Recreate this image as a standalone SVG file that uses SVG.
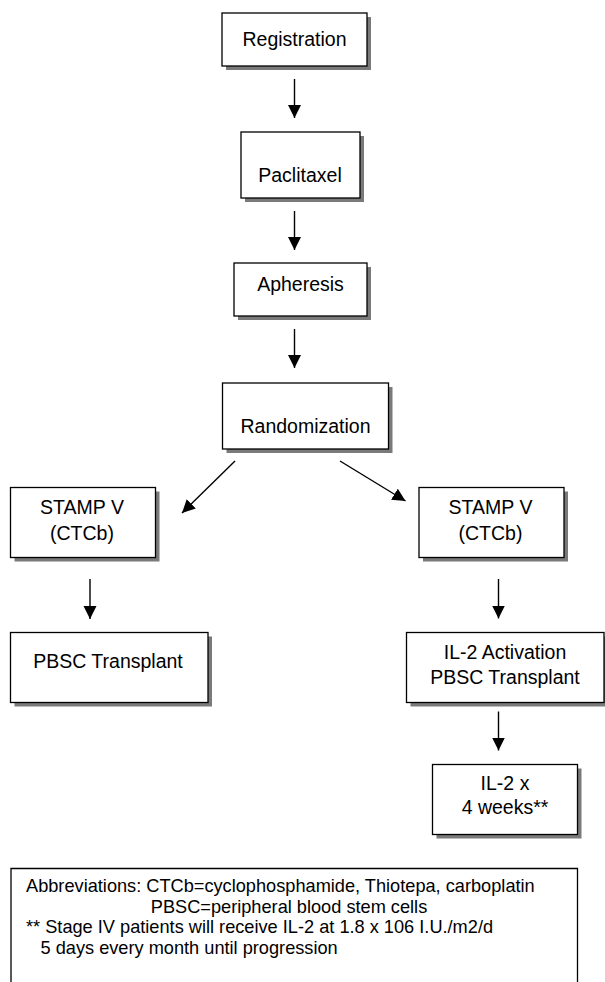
<svg xmlns="http://www.w3.org/2000/svg" width="605" height="982" viewBox="0 0 605 982">
<style>
.box{fill:#fff;stroke:#000;stroke-width:1.3}
.sh{fill:#7a7a7a}
.t{font-family:"Liberation Sans",Arial,sans-serif;font-size:19.5px;fill:#000;text-anchor:middle}
.n{font-family:"Liberation Sans",Arial,sans-serif;font-size:18.2px;fill:#000}
.c{stroke:#000;stroke-width:1.4;fill:none;marker-end:url(#ah)}
</style>
<defs>
<marker id="ah" markerUnits="userSpaceOnUse" markerWidth="14" markerHeight="14" viewBox="0 0 14 14" refX="13" refY="6.5" orient="auto">
<path d="M0,0 L13,6.5 L0,13 z" fill="#000"/>
</marker>
</defs>
<rect width="605" height="982" fill="#fff"/>
<g id="connectors">
<line class="c" x1="294.5" y1="79" x2="294.5" y2="118"/>
<line class="c" x1="294.5" y1="211" x2="294.5" y2="250"/>
<line class="c" x1="294.5" y1="329" x2="294.5" y2="368"/>
<line class="c" x1="235" y1="461" x2="182" y2="513"/>
<line class="c" x1="340" y1="461" x2="405.5" y2="501"/>
<line class="c" x1="90" y1="579" x2="90" y2="619"/>
<line class="c" x1="498.5" y1="579" x2="498.5" y2="618.5"/>
<line class="c" x1="498.5" y1="711.5" x2="498.5" y2="750.5"/>
</g>
<g id="registration">
<rect class="sh" x="226" y="17" width="145" height="53"/>
<rect class="box" x="222" y="13" width="145" height="53"/>
<text class="t" x="294.5" y="46">Registration</text>
</g>
<g id="paclitaxel">
<rect class="sh" x="245" y="136" width="119" height="66"/>
<rect class="box" x="241" y="132" width="119" height="66"/>
<text class="t" x="300" y="182">Paclitaxel</text>
</g>
<g id="apheresis">
<rect class="sh" x="238" y="267" width="133" height="53"/>
<rect class="box" x="234" y="263" width="133" height="53"/>
<text class="t" x="300.5" y="291">Apheresis</text>
</g>
<g id="randomization">
<rect class="sh" x="226.5" y="387" width="166" height="66"/>
<rect class="box" x="222.5" y="383" width="166" height="66"/>
<text class="t" x="305.5" y="433">Randomization</text>
</g>
<g id="stamp-left">
<rect class="sh" x="14.5" y="491.5" width="145" height="70"/>
<rect class="box" x="10.5" y="487.5" width="145" height="70"/>
<text class="t" x="82" y="514">STAMP V</text>
<text class="t" x="82" y="539.5">(CTCb)</text>
</g>
<g id="stamp-right">
<rect class="sh" x="423" y="491.5" width="145" height="70"/>
<rect class="box" x="419" y="487.5" width="145" height="70"/>
<text class="t" x="490.5" y="514">STAMP V</text>
<text class="t" x="490.5" y="539.5">(CTCb)</text>
</g>
<g id="pbsc-left">
<rect class="sh" x="14.5" y="636.5" width="197.5" height="70"/>
<rect class="box" x="10.5" y="632.5" width="197.5" height="70"/>
<text class="t" x="108" y="668">PBSC Transplant</text>
</g>
<g id="il2-activation">
<rect class="sh" x="410.5" y="636.5" width="197.5" height="70"/>
<rect class="box" x="406.5" y="632.5" width="197.5" height="70"/>
<text class="t" x="505" y="659">IL-2 Activation</text>
<text class="t" x="505" y="683.5">PBSC Transplant</text>
</g>
<g id="il2-weeks">
<rect class="sh" x="436.5" y="768.5" width="145" height="70"/>
<rect class="box" x="432.5" y="764.5" width="145" height="70"/>
<text class="t" x="505" y="790">IL-2 x</text>
<text class="t" x="505" y="814">4 weeks**</text>
</g>
<g id="notes">
<path d="M11,990 L11,868.5 L577.5,868.5 L577.5,990" fill="none" stroke="#000" stroke-width="1.3"/>
<text class="n" x="26" y="892">Abbreviations: CTCb=cyclophosphamide, Thiotepa, carboplatin</text>
<text class="n" x="289" y="912.5" text-anchor="middle">PBSC=peripheral blood stem cells</text>
<text class="n" x="26" y="933">** Stage IV patients will receive IL-2 at 1.8 x 106 I.U./m2/d</text>
<text class="n" x="40.5" y="953.5">5 days every month until progression</text>
</g>
</svg>
